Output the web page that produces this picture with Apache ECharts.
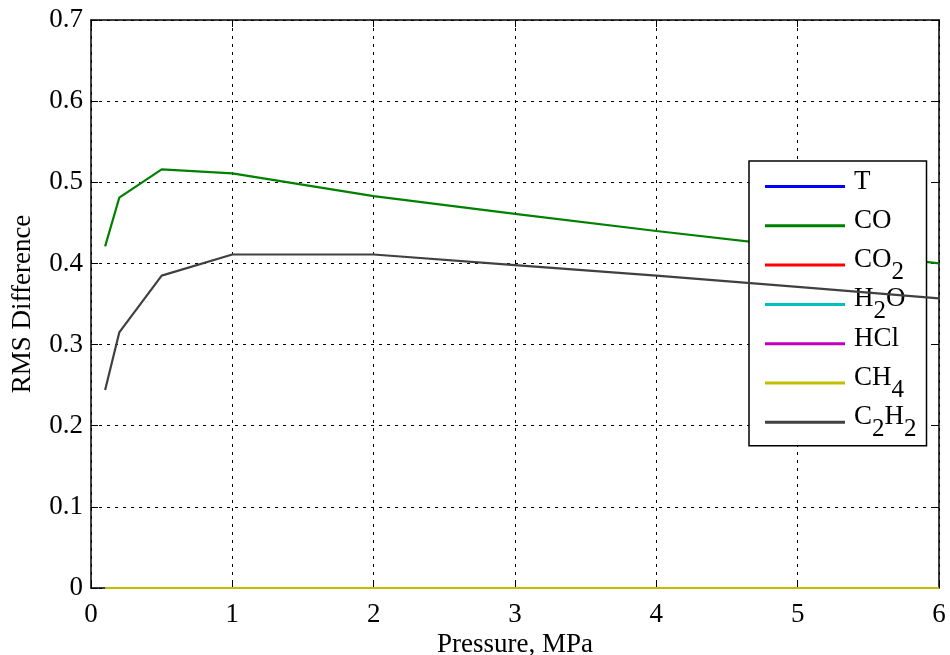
<!DOCTYPE html>
<html><head><meta charset="utf-8">
<script src="https://cdn.jsdelivr.net/npm/echarts@6/dist/echarts.min.js"></script>
<style>html,body{margin:0;padding:0;background:#fff}#c{width:950px;height:655px}</style>
</head><body><div id="c"></div>
<script>
const pressure = [0.1, 0.2, 0.5, 1, 2, 3, 4, 5, 6];
const seriesNames = ['T', 'CO', 'CO_2', 'H_2O', 'HCl', 'CH_4', 'C_2H_2'];
const T    = [0, 0, 0, 0, 0, 0, 0, 0, 0];
const CO   = [0.421, 0.481, 0.516, 0.511, 0.483, 0.461, 0.440, 0.420, 0.400];
const CO2  = [0, 0, 0, 0, 0, 0, 0, 0, 0];
const H2O  = [0, 0, 0, 0, 0, 0, 0, 0, 0];
const HCl  = [0, 0, 0, 0, 0, 0, 0, 0, 0];
const CH4  = [0, 0, 0, 0, 0, 0, 0, 0, 0];
const C2H2 = [0.244, 0.315, 0.385, 0.411, 0.411, 0.398, 0.385, 0.371, 0.357];
const xTicks = [0, 1, 2, 3, 4, 5, 6];
const yTicks = [0, 0.1, 0.2, 0.3, 0.4, 0.5, 0.6, 0.7];

const values = [T, CO, CO2, H2O, HCl, CH4, C2H2];
const colors = ['#0000ff', '#008000', '#ff0000', '#00bfbf', '#bf00bf', '#bfbf00', '#404040'];
const font = 'Liberation Serif';
const FS = 27;

function richName(n) {
  // "_X" marks a subscript character; every row gets a sub fragment for equal height
  let out = '';
  let i = 0;
  let hasSub = false;
  while (i < n.length) {
    if (n[i] === '_') { out += '{s|' + n[i + 1] + '}'; i += 2; hasSub = true; }
    else {
      let j = i;
      while (j < n.length && n[j] !== '_') j++;
      out += '{n|' + n.slice(i, j) + '}';
      i = j;
    }
  }
  if (!hasSub) out += '{s|\u200b}';
  return out;
}

const chart = echarts.init(document.getElementById('c'), null, {renderer: 'canvas'});
const axisCommon = {
  axisLine: {show: true, onZero: false, lineStyle: {color: '#000', width: 1.5}},
  axisTick: {show: true, inside: true, length: 7, lineStyle: {color: '#000', width: 1}},
  splitLine: {show: false}
};
const gridLine = {show: true, lineStyle: {color: '#000', type: [3, 5], width: 1}};
chart.setOption({
  animation: false,
  backgroundColor: '#fff',
  grid: {left: 91, right: 11, top: 20, bottom: 67, containLabel: false, outerBoundsMode: 'none'},
  legend: {
    orient: 'vertical',
    left: 749, top: 161,
    backgroundColor: '#fff',
    borderColor: '#000', borderWidth: 1.5,
    padding: [6, 10, 4, 16],
    itemWidth: 80, itemHeight: 3,
    itemGap: 0.3,
    icon: 'rect',
    data: seriesNames,
    formatter: richName,
    textStyle: {
      fontFamily: font, fontSize: FS, color: '#000', padding: [0, 0, 0, 4],
      rich: {
        n: {fontFamily: font, fontSize: FS, color: '#000', lineHeight: 27, padding: [0, 0, 10, 0]},
        s: {fontFamily: font, fontSize: 25, color: '#000', lineHeight: 25, padding: [14, 0, 0, 0]}
      }
    }
  },
  xAxis: [
    Object.assign({}, axisCommon, {
      type: 'value', min: 0, max: 6, interval: 1,
      name: 'Pressure, MPa', nameLocation: 'middle', nameGap: 43, nameMoveOverlap: false,
      nameTextStyle: {fontFamily: font, fontSize: FS, color: '#000'},
      axisLabel: {fontFamily: font, fontSize: FS, color: '#000', margin: 13,
        formatter: v => xTicks.includes(v) ? String(v) : ''},
      splitLine: gridLine
    }),
    Object.assign({}, axisCommon, {
      type: 'value', min: 0, max: 6, interval: 1, position: 'top',
      axisLabel: {show: false}
    })
  ],
  yAxis: [
    Object.assign({}, axisCommon, {
      type: 'value', min: 0, max: 0.7, interval: 0.1,
      name: 'RMS Difference', nameLocation: 'middle', nameGap: 55, nameMoveOverlap: false,
      nameTextStyle: {fontFamily: font, fontSize: FS, color: '#000'},
      axisLabel: {fontFamily: font, fontSize: FS, color: '#000', margin: 8,
        formatter: v => { const t = yTicks.find(y => Math.abs(y - v) < 1e-9); return t === undefined ? '' : String(+t.toFixed(1)); }},
      splitLine: gridLine
    }),
    Object.assign({}, axisCommon, {
      type: 'value', min: 0, max: 0.7, interval: 0.1, position: 'right',
      axisLabel: {show: false}
    })
  ],
  series: seriesNames.map((n, k) => ({
    name: n,
    type: 'line',
    xAxisIndex: 0, yAxisIndex: 0,
    showSymbol: false, symbol: 'none',
    color: colors[k],
    lineStyle: {width: 2.2, color: colors[k]},
    data: pressure.map((p, i) => [p, values[k][i]]),
    z: 2 + k
  }))
});
</script></body></html>
